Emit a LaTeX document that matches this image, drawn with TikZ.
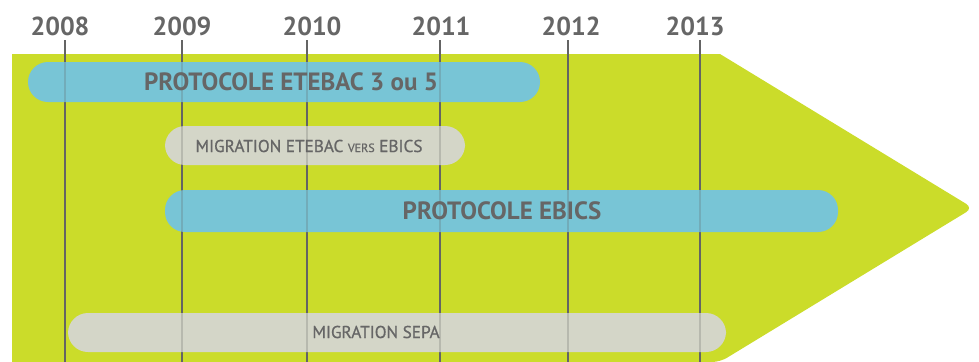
\documentclass[tikz,border=0pt]{standalone}
\usepackage{fontspec}
\setmainfont{PT Sans}
\newfontfamily\labelfont[FakeBold=0.8]{PT Sans}
\definecolor{arrowgreen}{HTML}{CBDC2A}
\definecolor{barblue}{HTML}{78C5D6}
\definecolor{bargray}{HTML}{D4D6C8}
\definecolor{txtgray}{HTML}{666666}
\definecolor{linegray}{HTML}{646464}

\begin{document}
\begin{tikzpicture}[x=0.5pt,y=-0.5pt,
  year/.style={font=\bfseries\fontsize{13}{14}\selectfont, text=txtgray},
  yearline/.style={linegray, line width=1.25pt},
  bluebar/.style={barblue, rounded corners=10pt},
  graybar/.style={bargray, rounded corners=10pt},
  biglabel/.style={font=\bfseries\fontsize{12.5}{14}\selectfont, text=txtgray},
  smalllabel/.style={font=\labelfont\fontsize{8.6}{10}\selectfont, text=txtgray}]

\useasboundingbox (0,0) rectangle (979,361);
\clip (0,0) rectangle (979,361);

\fill[arrowgreen] (12,362) -- (12,54) -- (720,54) [rounded corners=4pt] -- (973,208) -- (720,362) [sharp corners] -- cycle;

\foreach \yr/\px/\lx in {2008/65/60, 2009/182/182, 2010/307/312, 2011/440/441, 2012/568/571, 2013/700/695}
{   \node[year] (l\yr) at (\lx,26) {\yr};
	\coordinate (t\yr) at (\px,40);
	\coordinate (b\yr) at (\px,362);
	\draw[yearline] (t\yr) -- (b\yr);
}

\fill[bluebar] (28,62) rectangle (540,102);
\fill[graybar] (165,126) rectangle (465,165);
\fill[bluebar] (165,190) rectangle (838,232);
\fill[graybar] (68,313) rectangle (726,352);

% lines seen through the bars
\foreach \yr in {2008,2009,2010,2011,2012,2013}
	\draw[yearline, opacity=0.25] (t\yr) -- (b\yr);

\node[biglabel] (etebac) at (291,82) {PROTOCOLE ETEBAC 3 ou 5};
\node[smalllabel] (migration) at (309,146) {MIGRATION ETEBAC {\fontsize{6}{7}\selectfont VERS} EBICS};
\node[biglabel] (ebics) at (502,211) {PROTOCOLE EBICS};
\node[smalllabel] (sepa) at (376,332) {MIGRATION SEPA};

\end{tikzpicture}
\end{document}
